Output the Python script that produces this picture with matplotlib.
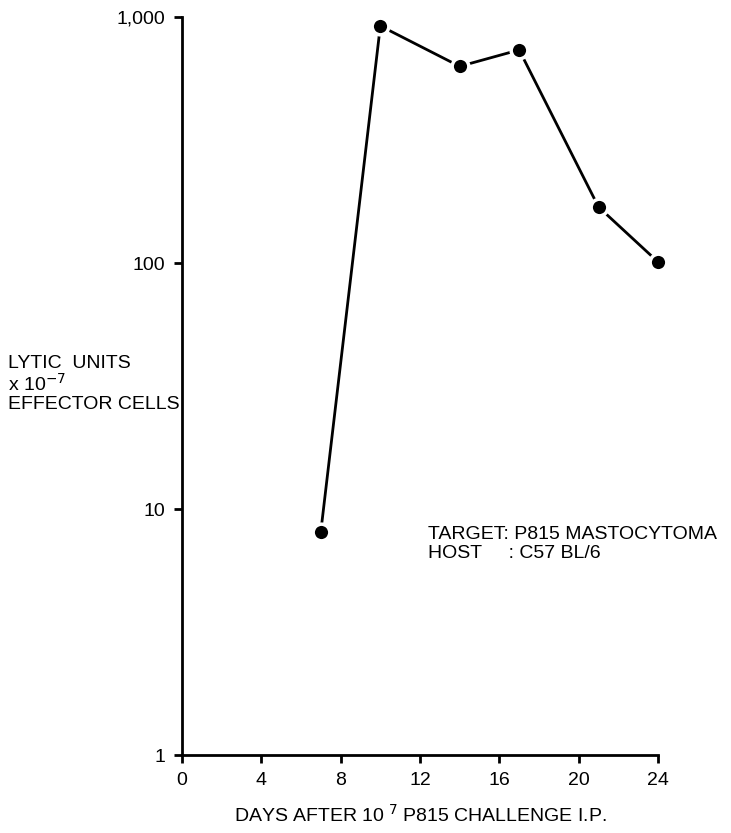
import matplotlib
matplotlib.use("Agg")
import matplotlib.pyplot as plt

plt.rcParams['font.family'] = ['Liberation Sans', 'DejaVu Sans']

days = [7, 10, 14, 17, 21, 24]
lytic_units = [8.1, 920, 630, 735, 169, 101]
x_ticks = [0, 4, 8, 12, 16, 20, 24]
y_ticks = [1, 10, 100, 1000]
y_tick_labels = ['1', '10', '100', '1,000']

FS = 14

fig = plt.figure(figsize=(7.31, 8.33), dpi=100)
ax = fig.add_axes([182/731, 78/833, 476/731, 738/833])

ax.plot(days, lytic_units, color='black', lw=2, marker='o', markersize=12,
        markerfacecolor='black', markeredgecolor='white', markeredgewidth=2.5,
        clip_on=False)

ax.set_yscale('log')
ax.set_xlim(0, 24)
ax.set_ylim(1, 1000)
ax.set_xticks(x_ticks)
ax.set_xticklabels([str(t) for t in x_ticks])
ax.set_yticks(y_ticks)
ax.set_yticklabels(y_tick_labels)
ax.minorticks_off()
ax.tick_params(axis='both', direction='out', length=6, width=2, labelsize=FS, pad=6)
for s in ['top', 'right']:
    ax.spines[s].set_visible(False)
for s in ['left', 'bottom']:
    ax.spines[s].set_linewidth(2)

fig.text(8/731, 1 - 384/833, 'LYTIC  UNITS\nx 10$^{-7}$\nEFFECTOR CELLS', fontsize=FS,
         va='center', ha='left', linespacing=1.05)
fig.text(428/731, 1 - 544/833, 'TARGET: P815 MASTOCYTOMA\nHOST     : C57 BL/6', fontsize=FS,
         va='center', ha='left', linespacing=1.2)
fig.text(420/731, 1 - 815/833, 'DAYS AFTER 10$^{\\ 7}$ P815 CHALLENGE I.P.', fontsize=FS,
         va='center', ha='center')

fig.savefig('out.png', dpi=100)
